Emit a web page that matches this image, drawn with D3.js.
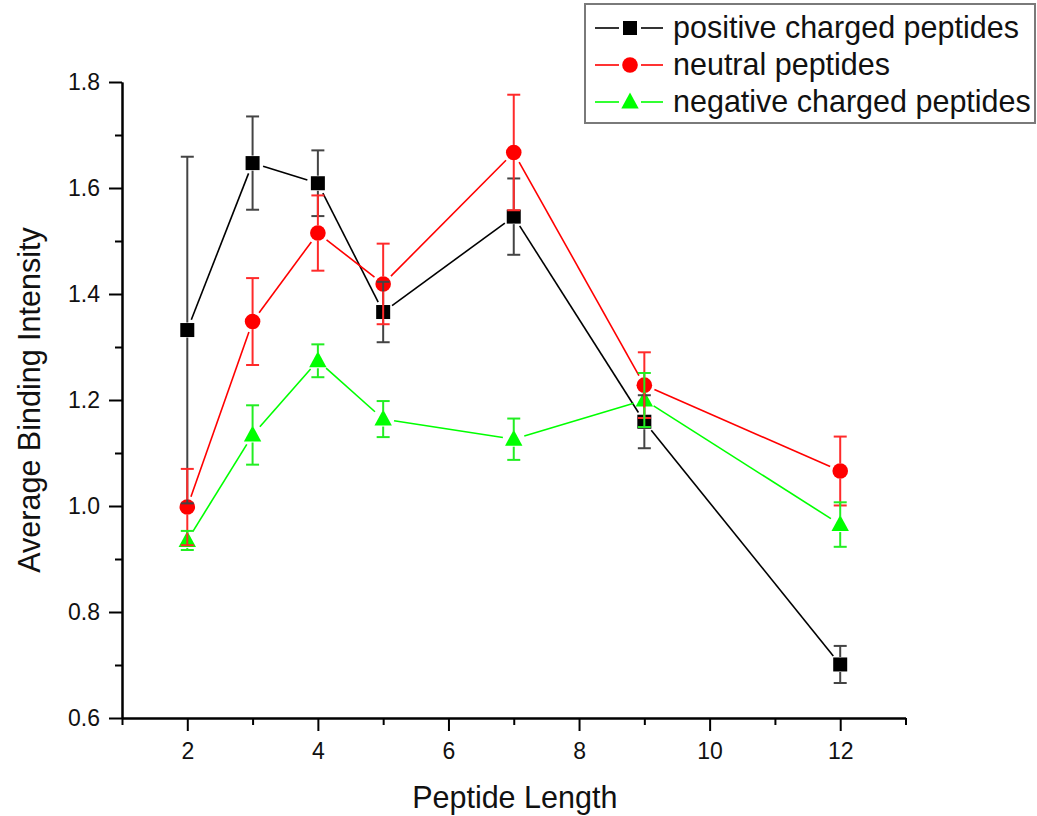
<!DOCTYPE html>
<html>
<head>
<meta charset="utf-8">
<script src="https://cdn.jsdelivr.net/npm/d3@7"></script>
<style>
  html, body { margin: 0; padding: 0; background: #fff; }
  svg { display: block; font-family: "Liberation Sans", Arial, sans-serif; }
</style>
</head>
<body>
<svg id="chart" width="1037" height="816"></svg>
<script>
// Peptide lengths measured
const lengths = [2, 3, 4, 5, 7, 9, 12];

// Average binding intensity and standard error per group
const positiveMean = [1.332, 1.647, 1.609, 1.366, 1.546, 1.159, 0.701];
const positiveErr  = [0.327, 0.088, 0.062, 0.057, 0.072, 0.050, 0.035];
const neutralMean  = [0.998, 1.348, 1.515, 1.419, 1.667, 1.228, 1.066];
const neutralErr   = [0.072, 0.082, 0.071, 0.076, 0.109, 0.062, 0.065];
const negativeMean = [0.935, 1.134, 1.274, 1.164, 1.126, 1.200, 0.965];
const negativeErr  = [0.018, 0.056, 0.031, 0.034, 0.039, 0.051, 0.042];

const seriesNames = ["positive charged peptides", "neutral peptides", "negative charged peptides"];

const xMajorTicks = [2, 4, 6, 8, 10, 12];
const xMinorTicks = [1, 3, 5, 7, 9, 11, 13];
const yMajorTicks = [0.6, 0.8, 1.0, 1.2, 1.4, 1.6, 1.8];
const yMinorTicks = [0.7, 0.9, 1.1, 1.3, 1.5, 1.7];

const series = [
  { name: seriesNames[0], mean: positiveMean, err: positiveErr, color: "#000000", bar: "#444444", shape: "square" },
  { name: seriesNames[1], mean: neutralMean,  err: neutralErr,  color: "#ff0000", bar: "#ff2a2a", shape: "circle" },
  { name: seriesNames[2], mean: negativeMean, err: negativeErr, color: "#00ff00", bar: "#22ee22", shape: "triangle" }
];

const svg = d3.select("#chart");
const x = d3.scaleLinear().domain([1, 13]).range([122, 905.5]);
const y = d3.scaleLinear().domain([0.6, 1.8]).range([718, 82]);

// Axes: left and bottom, ticks pointing outward
const axisG = svg.append("g");
const xAxisMajor = d3.axisBottom(x).tickValues(xMajorTicks).tickSize(13).tickSizeOuter(0).tickFormat(d3.format("d"));
const xAxisMinor = d3.axisBottom(x).tickValues(xMinorTicks).tickSize(7).tickSizeOuter(0).tickFormat("");
const yAxisMajor = d3.axisLeft(y).tickValues(yMajorTicks).tickSize(13).tickSizeOuter(0).tickFormat(d3.format(".1f"));
const yAxisMinor = d3.axisLeft(y).tickValues(yMinorTicks).tickSize(7).tickSizeOuter(0).tickFormat("");

function styleAxis(g) {
  g.selectAll("path.domain").attr("stroke", "#000").attr("stroke-width", 2);
  g.selectAll(".tick line").attr("stroke", "#000").attr("stroke-width", 2);
  g.selectAll(".tick text").attr("fill", "#111").style("font-size", "23px")
    .style("font-family", "'Liberation Sans', Arial, sans-serif");
}

axisG.append("g").attr("transform", `translate(0,${y(0.6)})`).call(xAxisMinor).call(styleAxis);
axisG.append("g").attr("transform", `translate(0,${y(0.6)})`).call(xAxisMajor).call(styleAxis)
  .selectAll(".tick text").attr("dy", null).attr("y", 41);
axisG.append("g").attr("transform", `translate(${x(1)},0)`).call(yAxisMinor).call(styleAxis);
axisG.append("g").attr("transform", `translate(${x(1)},0)`).call(yAxisMajor).call(styleAxis)
  .selectAll(".tick text").attr("x", -22).attr("dy", "0.33em");

// Axis titles
svg.append("text")
  .attr("x", (x(1) + x(13)) / 2 + 1).attr("y", 808)
  .attr("text-anchor", "middle")
  .style("font-size", "30.5px").attr("fill", "#111")
  .text("Peptide Length");

svg.append("text")
  .attr("transform", `translate(40,${(y(0.6) + y(1.8)) / 2}) rotate(-90)`)
  .attr("text-anchor", "middle")
  .style("font-size", "30.5px").attr("fill", "#111")
  .text("Average Binding Intensity");

// Marker drawing helper
function drawMarker(g, shape, cx, cy, color) {
  if (shape === "square") {
    g.append("rect").attr("x", cx - 7).attr("y", cy - 7).attr("width", 14).attr("height", 14).attr("fill", color);
  } else if (shape === "circle") {
    g.append("circle").attr("cx", cx).attr("cy", cy).attr("r", 7.8).attr("fill", color);
  } else {
    g.append("path")
      .attr("d", `M${cx},${cy - 9.5} L${cx + 8.7},${cy + 6.5} L${cx - 8.7},${cy + 6.5} Z`)
      .attr("fill", color);
  }
}

const gap = 11;    // space left between connecting lines and markers
const markR = 7.5; // half-size of the markers, where error bars start

// Connecting lines, broken around each marker
const lineG = svg.append("g");
series.forEach(s => {
  const pts = lengths.map((L, i) => [x(L), y(s.mean[i])]);
  for (let i = 0; i < pts.length - 1; i++) {
    const [x0, y0] = pts[i], [x1, y1] = pts[i + 1];
    const len = Math.hypot(x1 - x0, y1 - y0);
    const ux = (x1 - x0) / len, uy = (y1 - y0) / len;
    lineG.append("line")
      .attr("x1", x0 + ux * gap).attr("y1", y0 + uy * gap)
      .attr("x2", x1 - ux * gap).attr("y2", y1 - uy * gap)
      .attr("stroke", s.color).attr("stroke-width", 1.6);
  }
});

// Markers
const markG = svg.append("g");
series.forEach(s => {
  lengths.forEach((L, i) => drawMarker(markG, s.shape, x(L), y(s.mean[i]), s.color));
});

// Error bars with caps
const errG = svg.append("g");
const capW = 6.5;
series.forEach(s => {
  lengths.forEach((L, i) => {
    const cx = x(L), cy = y(s.mean[i]);
    const yt = y(s.mean[i] + s.err[i]), yb = y(s.mean[i] - s.err[i]);
    if (cy - markR > yt) {
      errG.append("line").attr("x1", cx).attr("x2", cx).attr("y1", cy - markR).attr("y2", yt)
        .attr("stroke", s.bar).attr("stroke-width", 2);
    }
    if (yb > cy + markR) {
      errG.append("line").attr("x1", cx).attr("x2", cx).attr("y1", cy + markR).attr("y2", yb)
        .attr("stroke", s.bar).attr("stroke-width", 2);
    }
    [yt, yb].forEach(yy => {
      errG.append("line").attr("x1", cx - capW).attr("x2", cx + capW).attr("y1", yy).attr("y2", yy)
        .attr("stroke", s.bar).attr("stroke-width", 2);
    });
  });
});

// Legend
const legend = svg.append("g");
legend.append("rect").attr("x", 585).attr("y", 4).attr("width", 450).attr("height", 119)
  .attr("fill", "#fff").attr("stroke", "#7a7a7a").attr("stroke-width", 2);
series.forEach((s, i) => {
  const cy = 28 + i * 37;
  legend.append("line").attr("x1", 595).attr("x2", 619).attr("y1", cy).attr("y2", cy)
    .attr("stroke", s.color).attr("stroke-width", 1.6);
  legend.append("line").attr("x1", 641).attr("x2", 663).attr("y1", cy).attr("y2", cy)
    .attr("stroke", s.color).attr("stroke-width", 1.6);
  drawMarker(legend, s.shape, 630, cy, s.color);
  legend.append("text").attr("x", 673).attr("y", cy + 10)
    .style("font-size", "30.5px").attr("fill", "#111").text(s.name);
});
</script>
</body>
</html>
